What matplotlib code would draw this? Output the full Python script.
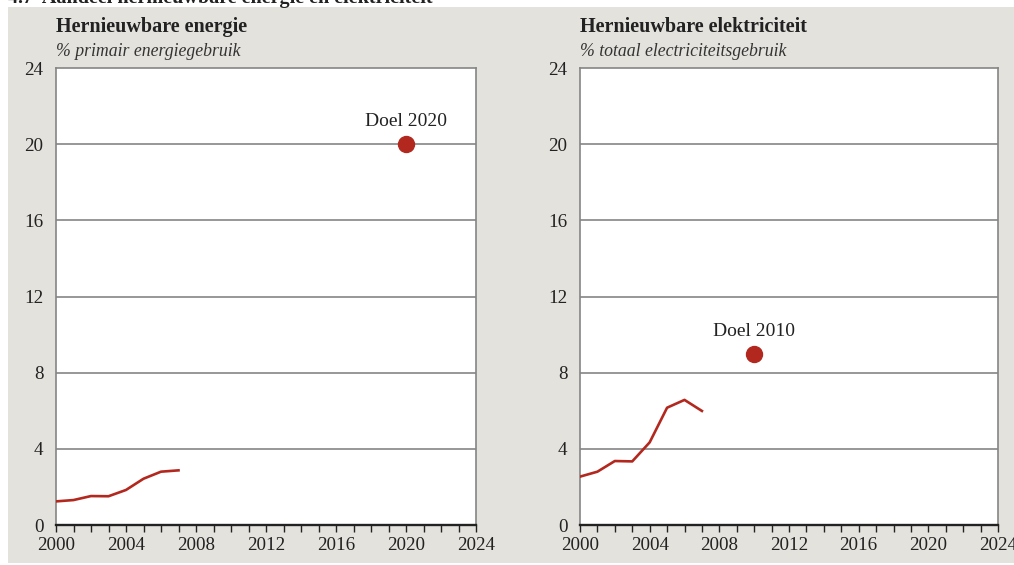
import matplotlib.pyplot as plt
from matplotlib.patches import Rectangle

# Data --------------------------------------------------------------------------

years = [2000, 2001, 2002, 2003, 2004, 2005, 2006, 2007]
energie = [1.24, 1.31, 1.52, 1.51, 1.84, 2.43, 2.8, 2.87]
elektriciteit = [2.54, 2.8, 3.36, 3.34, 4.34, 6.16, 6.57, 5.99]

doel_energie = (2020, 20)
doel_elektriciteit = (2010, 9)

titles = ["Hernieuwbare energie", "Hernieuwbare elektriciteit"]
subtitles = ["% primair energiegebruik", "% totaal electriciteitsgebruik"]
doel_labels = ["Doel 2020", "Doel 2010"]

x_ticks = [2000, 2004, 2008, 2012, 2016, 2020, 2024]
y_ticks = [0, 4, 8, 12, 16, 20, 24]

# Style -------------------------------------------------------------------------

RED = "#b3281e"
BG = "#e4e2dd"
GRID = "#858585"
INK = "#222222"
plt.rcParams["font.family"] = ["Liberation Serif", "DejaVu Serif"]

fig = plt.figure(figsize=(10.14, 5.65), dpi=100)

# gray background panel
fig.patches.append(Rectangle((8 / 1014, 2 / 565), 1, 556 / 565, transform=fig.transFigure,
                             facecolor=BG, edgecolor="none", zorder=-10))

# chapter header, cut off at the top edge like in the source
fig.text(8 / 1014, 1 - 3 / 565, "4.7  Aandeel hernieuwbare energie en elektriciteit",
         fontsize=14.5, fontweight="bold", va="baseline", ha="left", color=INK)


def draw_panel(left, width, title, subtitle, series, doel, doel_label):
    ax = fig.add_axes([left, 40 / 565, width, 457 / 565])
    ax.set_facecolor("white")
    ax.plot(years, series, color=RED, lw=1.9, zorder=3)
    ax.plot([doel[0]], [doel[1]], "o", color=RED, ms=11.5, zorder=4)
    ax.annotate(doel_label, doel, xytext=(0, 10), textcoords="offset points",
                ha="center", va="bottom", fontsize=14, color=INK)

    ax.set_xlim(2000, 2024)
    ax.set_ylim(0, 24)
    ax.set_xticks(x_ticks)
    ax.set_xticks(range(2000, 2025), minor=True)
    ax.set_yticks(y_ticks)
    ax.tick_params(axis="x", which="both", direction="out", length=5, width=1,
                   color=INK, labelsize=13.7, pad=4, labelcolor=INK)
    ax.tick_params(axis="y", length=0, labelsize=13.7, pad=9, labelcolor=INK)

    for y in y_ticks[1:-1]:
        ax.axhline(y, color=GRID, lw=1.2, zorder=1)
    for side in ["left", "top", "right"]:
        ax.spines[side].set_color(GRID)
        ax.spines[side].set_linewidth(1.2)
    ax.spines["bottom"].set_color(INK)
    ax.spines["bottom"].set_linewidth(1.7)

    fig.text(left, 1 - 27 / 565, title, fontsize=14.5, fontweight="bold",
             va="center", ha="left", color=INK)
    fig.text(left, 1 - 52 / 565, subtitle, fontsize=12.8, style="italic",
             va="center", ha="left", color="#333333")
    return ax


draw_panel(56 / 1014, 420 / 1014, titles[0], subtitles[0], energie,
           doel_energie, doel_labels[0])
draw_panel(580 / 1014, 418 / 1014, titles[1], subtitles[1], elektriciteit,
           doel_elektriciteit, doel_labels[1])

fig.savefig("out.png", dpi=100, facecolor="white")
